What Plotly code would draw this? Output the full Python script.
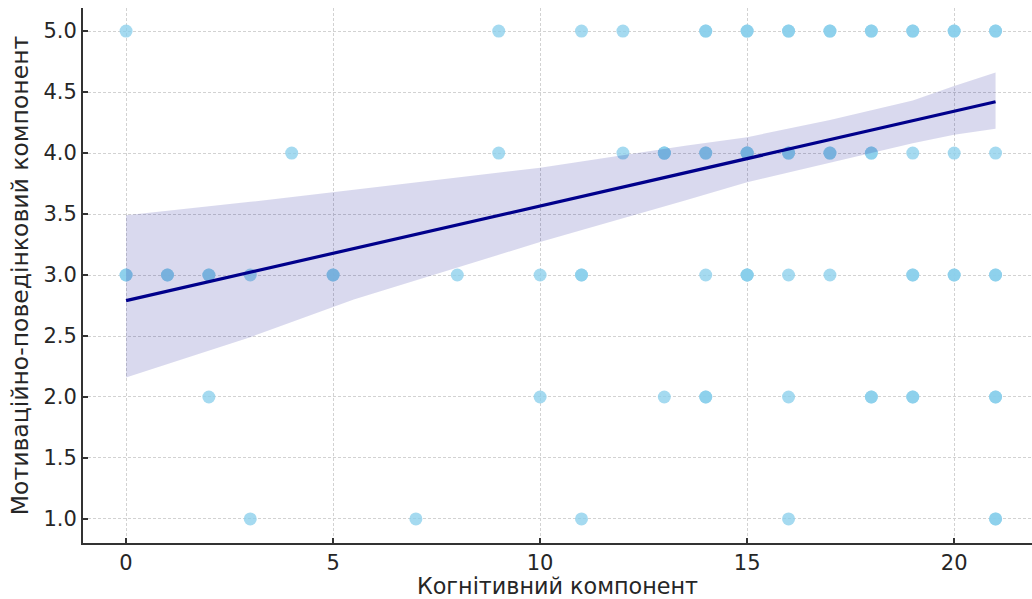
import plotly.graph_objects as go

# Observations: (cognitive score, motivational-behavioural score, count)
cog = [0, 9, 11, 12, 14, 15, 16, 17, 18, 19, 20, 21,
       4, 9, 12, 13, 14, 15, 16, 17, 18, 19, 20, 21,
       0, 1, 2, 3, 5, 8, 10, 11, 14, 15, 16, 17, 19, 20, 21,
       2, 10, 13, 14, 16, 18, 19, 21,
       3, 7, 11, 16, 21]
motiv = [5] * 12 + [4] * 12 + [3] * 15 + [2] * 8 + [1] * 5
counts = [1, 1, 1, 1, 2, 2, 2, 2, 2, 2, 2, 2,
          1, 1, 1, 3, 2, 3, 2, 2, 2, 1, 1, 1,
          2, 2, 2, 1, 2, 1, 1, 2, 1, 3, 1, 1, 2, 2, 2,
          1, 1, 1, 2, 1, 2, 2, 2,
          1, 1, 1, 1, 2]

# Fitted regression line and its confidence band
fit_x = [0, 21]
fit_y = [2.79, 4.42]
band_x = [0, 3, 5.5, 10, 13.5, 15, 17, 19, 20, 21]
band_upper = [3.49, 3.60, 3.70, 3.88, 4.06, 4.13, 4.27, 4.43, 4.55, 4.66]
band_lower = [2.16, 2.49, 2.80, 3.27, 3.61, 3.76, 3.92, 4.08, 4.15, 4.20]

x_label = "Когнітивний компонент"
y_label = "Мотиваційно-поведінковий компонент"
x_ticks = [0, 5, 10, 15, 20]
y_ticks = [1.0, 1.5, 2.0, 2.5, 3.0, 3.5, 4.0, 4.5, 5.0]

# expand repeated observations so overlapping markers darken
xs, ys = [], []
for x, y, n in zip(cog, motiv, counts):
    xs += [x] * n
    ys += [y] * n

font = "DejaVu Sans, Liberation Sans, sans-serif"
text_color = "#262626"
fig = go.Figure()

fig.add_trace(go.Scatter(
    x=xs, y=ys, mode="markers",
    marker=dict(color="#87CEEB", size=13, opacity=0.75, line=dict(width=0)),
    hoverinfo="skip", showlegend=False,
))

fig.add_trace(go.Scatter(
    x=band_x, y=band_upper, mode="lines", line=dict(width=0),
    hoverinfo="skip", showlegend=False,
))
fig.add_trace(go.Scatter(
    x=band_x, y=band_lower, mode="lines", line=dict(width=0),
    fill="tonexty", fillcolor="rgba(0,0,139,0.15)",
    hoverinfo="skip", showlegend=False,
))

fig.add_trace(go.Scatter(
    x=fit_x, y=fit_y, mode="lines",
    line=dict(color="#00008B", width=3.2),
    hoverinfo="skip", showlegend=False,
))

axis_common = dict(
    showgrid=True, gridcolor="#d2d2d2", gridwidth=1, griddash="3px,2px",
    zeroline=False, showline=True, linecolor="#333333", linewidth=2,
    ticks="inside", ticklen=5, tickwidth=1.5, tickcolor="#333333",
    tickfont=dict(family=font, size=21, color=text_color),
    mirror=False,
)

fig.update_xaxes(
    range=[-1.04, 21.88], tickvals=x_ticks, ticktext=[str(t) for t in x_ticks],
    title=dict(text=x_label, font=dict(family=font, size=22.3, color=text_color), standoff=6),
    **axis_common,
)
fig.update_yaxes(
    range=[0.803, 5.189], tickvals=y_ticks, ticktext=[f"{t:.1f}" for t in y_ticks],
    title=dict(text=y_label, font=dict(family=font, size=23.5, color=text_color), standoff=8),
    **axis_common,
)

fig.update_layout(
    width=1032, height=599,
    margin=dict(l=83, r=0, t=8, b=56),
    paper_bgcolor="white", plot_bgcolor="white",
    font=dict(family=font),
)

fig.write_html("out.html")
